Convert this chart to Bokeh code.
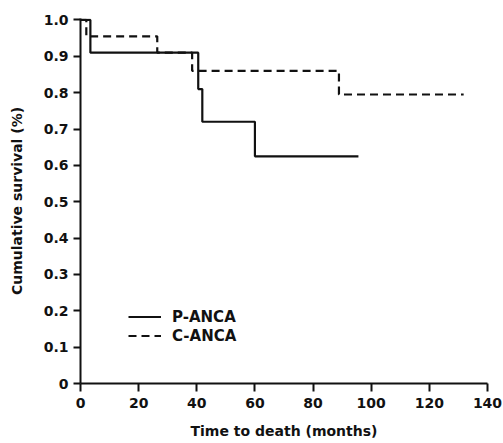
from bokeh.plotting import figure
from bokeh.models import Range1d, Legend, LegendItem, FixedTicker
from bokeh.embed import file_html
from bokeh.resources import INLINE

# Kaplan-Meier step data
p_anca_time = [0, 3.4, 40.5, 41.9, 60.0, 95.6]
p_anca_surv = [1.0, 0.91, 0.81, 0.72, 0.625, 0.625]
c_anca_time = [0, 2.0, 26.4, 38.4, 88.9, 131.8]
c_anca_surv = [1.0, 0.955, 0.91, 0.86, 0.795, 0.795]

x_ticks = [0, 20, 40, 60, 80, 100, 120, 140]
y_ticks = [0.0, 0.1, 0.2, 0.3, 0.4, 0.5, 0.6, 0.7, 0.8, 0.9, 1.0]
y_tick_labels = ["0", "0.1", "0.2", "0.3", "0.4", "0.5", "0.6", "0.7", "0.8", "0.9", "1.0"]
series_names = ["P-ANCA", "C-ANCA"]

FONT = "DejaVu Sans"
INK = "#111111"

p = figure(width=503, height=443, output_backend="svg", toolbar_location=None,
           x_range=Range1d(0, 140), y_range=Range1d(0, 1.004),
           min_border_left=80, min_border_right=16, min_border_top=18, min_border_bottom=60,
           background_fill_color="white", border_fill_color="white")
p.outline_line_color = None
p.grid.visible = False

r_p = p.step(p_anca_time, p_anca_surv, mode="after", line_color=INK, line_width=2.2)
r_c = p.step(c_anca_time, c_anca_surv, mode="after", line_color=INK, line_width=2.2,
             line_dash="8 5")

for ax in (p.xaxis[0], p.yaxis[0]):
    ax.axis_line_width = 2
    ax.axis_line_color = INK
    ax.major_tick_line_width = 2
    ax.major_tick_line_color = INK
    ax.major_tick_in = 0
    ax.minor_tick_line_color = None
    ax.major_label_text_font = FONT
    ax.major_label_text_font_style = "bold"
    ax.major_label_text_font_size = "14px"
    ax.major_label_text_color = INK
    ax.axis_label_text_font = FONT
    ax.axis_label_text_font_style = "bold"
    ax.axis_label_text_font_size = "14px"
    ax.axis_label_text_color = INK

p.xaxis.ticker = FixedTicker(ticks=x_ticks)
p.xaxis.major_tick_out = 8
p.xaxis.major_label_standoff = 6
p.xaxis.axis_label = "Time to death (months)"
p.xaxis.axis_label_standoff = 12

p.yaxis.ticker = FixedTicker(ticks=y_ticks)
p.yaxis.major_label_overrides = {t: s for t, s in zip(y_ticks, y_tick_labels)}
p.yaxis.major_tick_out = 7
p.yaxis.major_label_standoff = 5
p.yaxis.axis_label = "Cumulative survival (%)"
p.yaxis.axis_label_standoff = 16

legend = Legend(items=[LegendItem(label=series_names[0], renderers=[r_p]),
                       LegendItem(label=series_names[1], renderers=[r_c])],
                location=(48, 38), padding=0, margin=0, spacing=0,
                glyph_width=33, glyph_height=19, label_height=19, label_standoff=11,
                label_text_font=FONT, label_text_font_style="bold",
                label_text_font_size="15px", label_text_color=INK,
                border_line_color=None, background_fill_alpha=0)
p.add_layout(legend, "center")

open("out.html", "w").write(file_html(p, INLINE))
